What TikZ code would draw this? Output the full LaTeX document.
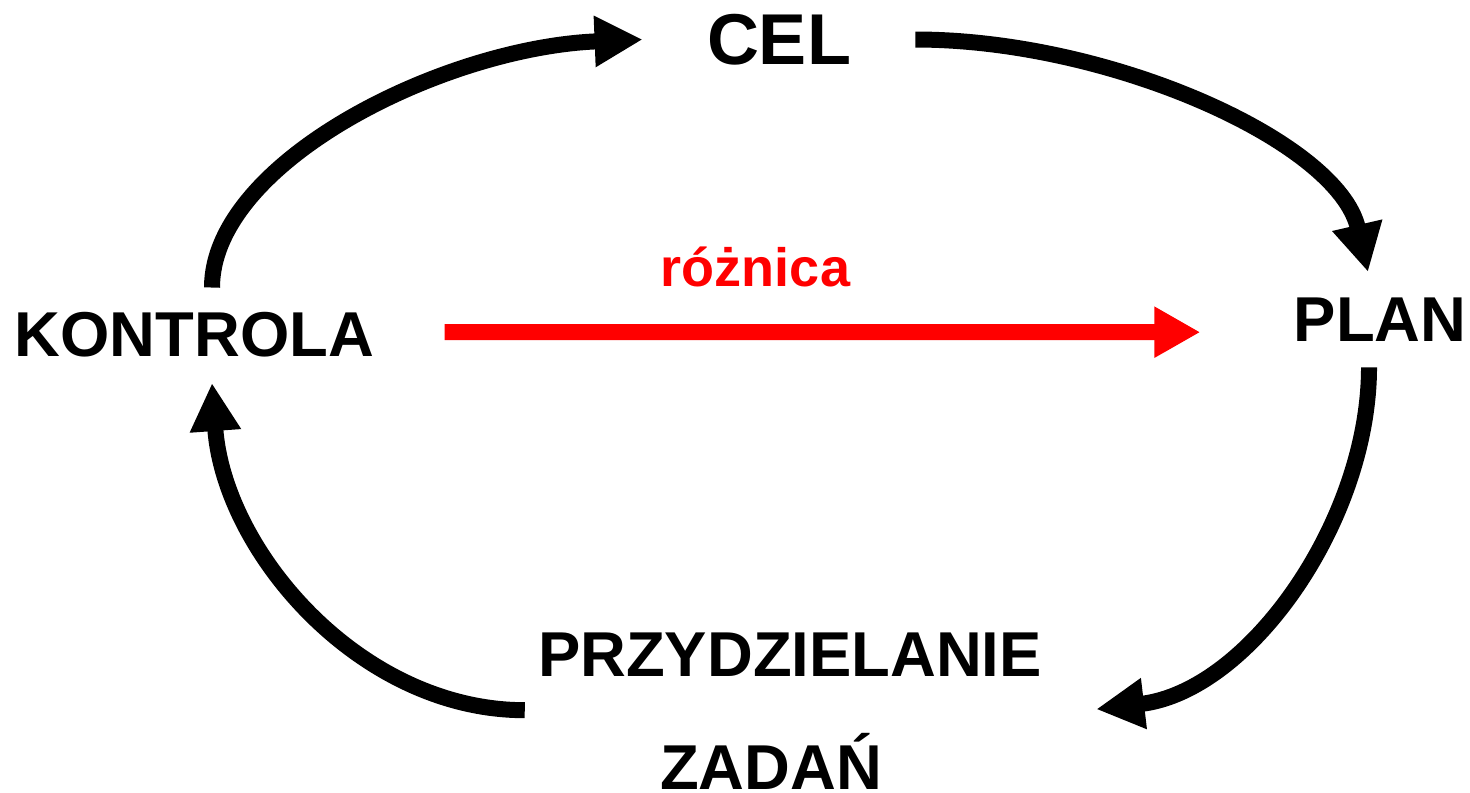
\documentclass[tikz,border=0pt]{standalone}
\usepackage{fontspec}
\setmainfont{Liberation Sans}
\usetikzlibrary{arrows.meta,calc}
\begin{document}
\begin{tikzpicture}[x=0.5pt,y=-0.5pt,
  lbl/.style={inner sep=0pt, anchor=base, font=\fontsize{31.7}{36}\selectfont\bfseries},
  bigl/.style={lbl, font=\fontsize{36}{40}\selectfont\bfseries},
  redl/.style={lbl, font=\fontsize{27}{30}\selectfont\bfseries, text=red},
  flow/.style={line width=8pt, -{Triangle[length=24pt,width=24pt]}},
  redflow/.style={flow, draw=red, -{Triangle[length=23pt,width=24pt]}},
]
\useasboundingbox (0,0) rectangle (1470,792);
\node[lbl]  (kontrola) at (194.5,356.7)  {KONTROLA};
\node[bigl] (cel)      at (779,64.3)     {CEL};
\node[lbl]  (plan)     at (1380,341.7)   {PLAN};
\node[lbl]  (przyd)    at (790,676)      {PRZYDZIELANIE};
\node[lbl]  (zadan)    at (771,789.5)    {ZADAŃ};
\node[redl] (roznica)  at (755.5,286)    {różnica};

\draw[flow] ($(kontrola.north)+(17.5,-24.5)$) .. controls +(0,-125) and +(-200,8) .. ($(cel.west)+(-64,0)$);
\draw[flow] ($(cel.east)+(64,0)$) .. controls +(195,0) and +(-30,-130) .. ($(plan.north)+(-12,-25.7)$);
\draw[flow] ($(plan.south)+(-11,25.3)$) .. controls +(0,153) and +(153,-18) .. ($(przyd.east)+(54,55)$);
\draw[flow] ($(przyd.west)+(-13,56)$) .. controls +(-165,0) and +(12,168) .. ($(kontrola.south)+(17.5,25.3)$);
\draw[redflow] ($(kontrola.east)+(70,-2.7)$) -- ($(plan.west)+(-93,12.3)$);
\end{tikzpicture}
\end{document}
